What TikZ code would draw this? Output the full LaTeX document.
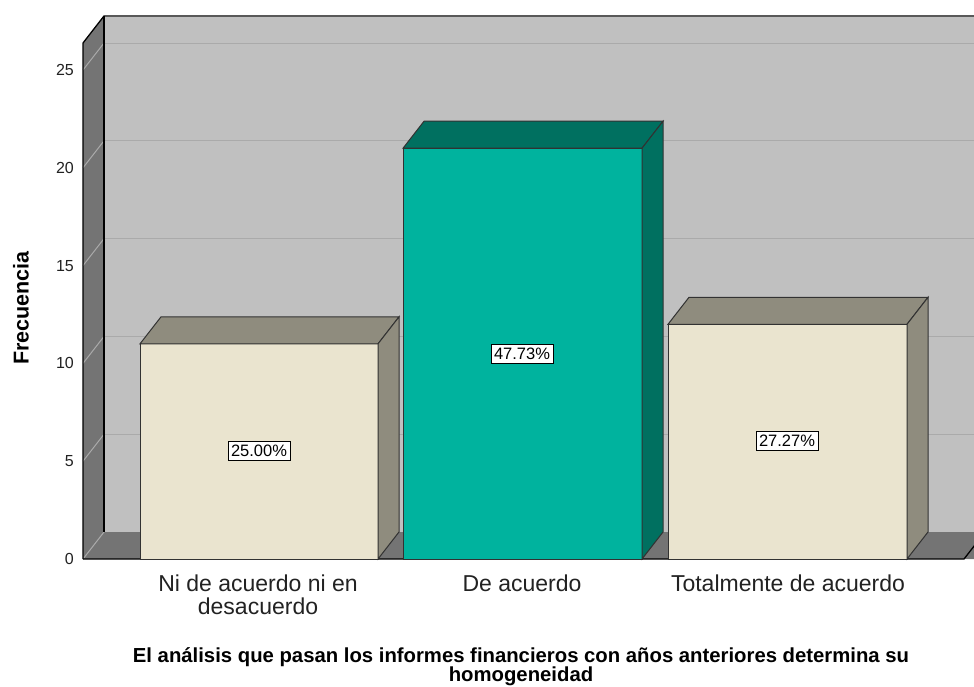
\documentclass[tikz,border=0pt]{standalone}
\usepackage{fontspec}
\setmainfont{Liberation Sans}
\definecolor{backwall}{RGB}{192,192,192}
\definecolor{sidewall}{RGB}{116,116,116}
\definecolor{gridc}{RGB}{170,170,170}
\definecolor{creamfront}{RGB}{234,228,207}
\definecolor{creamside}{RGB}{143,140,126}
\definecolor{tealfront}{RGB}{0,179,158}
\definecolor{tealside}{RGB}{0,112,96}
\definecolor{edgec}{RGB}{50,50,50}
\definecolor{textc}{RGB}{34,34,34}
\newcommand\chartbar[5]{%
  \pgfmathsetmacro\ytop{559-#3*19.56}%
  \filldraw[barline, fill=#4] (#1,559) rectangle (#2,\ytop);
  \filldraw[barline, fill=#5] (#1,\ytop) -- ({#1+21},{\ytop-27}) -- ({#2+21},{\ytop-27}) -- (#2,\ytop) -- cycle;
  \filldraw[barline, fill=#5] (#2,559) -- (#2,\ytop) -- ({#2+21},{\ytop-27}) -- ({#2+21},532) -- cycle;
}
\begin{document}
\begin{tikzpicture}[x=1pt,y=-1pt,
  barline/.style={draw=edgec, line width=1pt, line join=miter},
  wallline/.style={draw=black, line width=1.3pt},
  gridline/.style={draw=gridc, line width=1pt},
  ticklab/.style={anchor=east, inner sep=0pt, text=textc, font=\fontsize{16}{18}\selectfont},
  catlab/.style={anchor=base, inner sep=0pt, text=textc, font=\fontsize{23}{26}\selectfont},
  pctlab/.style={draw=black, line width=0.8pt, fill=white, inner xsep=3pt, inner ysep=4pt, text=black, font=\fontsize{16.5}{18}\selectfont},
  titlelab/.style={anchor=base, inner sep=0pt, text=black, font=\bfseries\fontsize{20.3}{20}\selectfont}]
\useasboundingbox (0,0) rectangle (974,686);
\fill[white] (0,0) rectangle (974,686);
\begin{scope}
\clip (0,0) rectangle (974,686);
% back wall
\fill[backwall] (104,17) rectangle (1000,532);
% left wall and floor
\fill[sidewall] (83,559) -- (83,43) -- (104,16) -- (104,532) -- cycle;
\fill[sidewall] (83,559) -- (104,532) -- (1000,532) -- (979,559) -- cycle;
% grid lines
\foreach \v in {0,5,10,15,20,25}{
  \pgfmathsetmacro\yf{559-\v*19.56}
  \draw[gridline] (83,\yf) -- (104,{\yf-27});
}
\foreach \v in {5,10,15,20,25}{
  \pgfmathsetmacro\yf{559-\v*19.56}
  \draw[gridline] (104,{\yf-27}) -- (1000,{\yf-27});
}
% outlines
\draw[wallline] (83,559) -- (83,43) -- (104,16) -- (1000,16);
\draw[wallline] (104,16) -- (104,532);
\draw[wallline] (83,559) -- (964,559) -- (985,532);
% bars
\chartbar{140}{378}{11}{creamfront}{creamside}
\chartbar{403}{642}{21}{tealfront}{tealside}
\chartbar{668}{907}{12}{creamfront}{creamside}
\end{scope}
% tick labels
\node[ticklab] (t0) at (74,559) {0};
\node[ticklab] (t5) at (74,461.2) {5};
\node[ticklab] (t10) at (74,363.4) {10};
\node[ticklab] (t15) at (74,265.6) {15};
\node[ticklab] (t20) at (74,167.8) {20};
\node[ticklab] (t25) at (74,70) {25};
% axis title
\node[rotate=90, inner sep=0pt, text=black, font=\bfseries\fontsize{21.5}{24}\selectfont] (ylab) at (21,308) {Frecuencia};
% percent labels
\node[pctlab] (p1) at (259,451) {25.00\%};
\node[pctlab] (p2) at (522,354) {47.73\%};
\node[pctlab] (p3) at (787,441) {27.27\%};
% category labels
\node[catlab] (c1a) at (258,591) {Ni de acuerdo ni en};
\node[catlab] (c1b) at (258,614) {desacuerdo};
\node[catlab] (c2) at (522,591) {De acuerdo};
\node[catlab] (c3) at (788,591) {Totalmente de acuerdo};
% title
\node[titlelab] (ti1) at (521,662) {El análisis que pasan los informes financieros con años anteriores determina su};
\node[titlelab] (ti2) at (521,681) {homogeneidad};
\end{tikzpicture}
\end{document}
